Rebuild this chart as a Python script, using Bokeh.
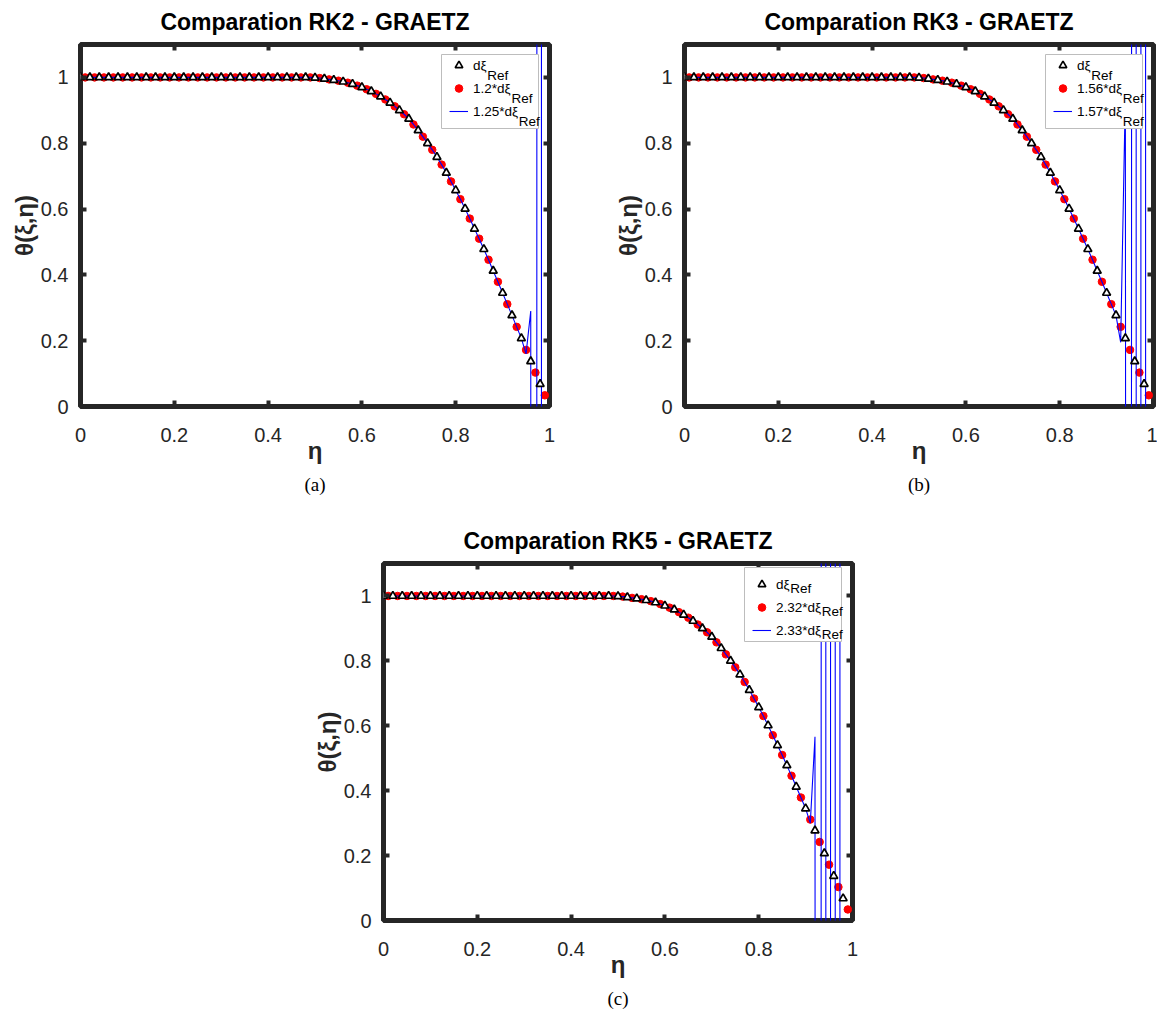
import numpy as np
from bokeh.plotting import figure
from bokeh.models import (Legend, LegendItem, Label, LinearAxis, Title, FixedTicker,
                          Range1d, Spacer, ColumnDataSource, BoxAnnotation)
from bokeh.layouts import column, row
from bokeh.core.properties import value
from bokeh.embed import file_html
from bokeh.resources import INLINE

# ---------------- data ----------------
eta_ref = [0.00, 0.02, 0.04, 0.06, 0.08, 0.10, 0.12, 0.14, 0.16, 0.18,
           0.20, 0.22, 0.24, 0.26, 0.28, 0.30, 0.32, 0.34, 0.36, 0.38,
           0.40, 0.42, 0.44, 0.46, 0.48, 0.50, 0.52, 0.54, 0.56, 0.58,
           0.60, 0.62, 0.64, 0.66, 0.68, 0.70, 0.72, 0.74, 0.76, 0.78,
           0.80, 0.82, 0.84, 0.86, 0.88, 0.90, 0.92, 0.94, 0.96, 0.98]
theta_ref = [1.0, 1.0, 1.0, 1.0, 1.0, 1.0, 1.0, 1.0, 1.0, 1.0,
             1.0, 1.0, 1.0, 1.0, 1.0, 1.0, 1.0, 1.0, 1.0, 1.0,
             1.0, 1.0, 1.0, 1.0, 1.0, 0.999, 0.996, 0.992, 0.987, 0.980,
             0.970, 0.958, 0.942, 0.923, 0.900, 0.874, 0.839, 0.800, 0.758, 0.710,
             0.657, 0.601, 0.540, 0.478, 0.412, 0.345, 0.277, 0.207, 0.137, 0.068]

eta_fine = [0.01, 0.03, 0.05, 0.07, 0.09, 0.11, 0.13, 0.15, 0.17, 0.19,
            0.21, 0.23, 0.25, 0.27, 0.29, 0.31, 0.33, 0.35, 0.37, 0.39,
            0.41, 0.43, 0.45, 0.47, 0.49, 0.51, 0.53, 0.55, 0.57, 0.59,
            0.61, 0.63, 0.65, 0.67, 0.69, 0.71, 0.73, 0.75, 0.77, 0.79,
            0.81, 0.83, 0.85, 0.87, 0.89, 0.91, 0.93, 0.95, 0.97, 0.99]
theta_fine = [1.0, 1.0, 1.0, 1.0, 1.0, 1.0, 1.0, 1.0, 1.0, 1.0,
              1.0, 1.0, 1.0, 1.0, 1.0, 1.0, 1.0, 1.0, 1.0, 1.0,
              1.0, 1.0, 1.0, 1.0, 1.0, 0.998, 0.994, 0.990, 0.984, 0.975,
              0.964, 0.950, 0.933, 0.912, 0.888, 0.857, 0.820, 0.780, 0.735, 0.684,
              0.630, 0.571, 0.510, 0.446, 0.379, 0.311, 0.242, 0.172, 0.103, 0.034]

# unstable (blue) run: same profile, then oscillation near the wall (off-chart values estimated)
tail_eta_a = [0.95, 0.96, 0.97, 0.98, 0.99]
tail_theta_a = [0.160, 0.290, -25.0, 60.0, -150.0]
tail_eta_b = [0.93, 0.94, 0.95, 0.96, 0.97, 0.98, 0.99]
tail_theta_b = [0.195, 0.950, -20.0, 45.0, -100.0, 220.0, -480.0]
tail_eta_c = [0.91, 0.92, 0.93, 0.94, 0.95, 0.96, 0.97, 0.98]
tail_theta_c = [0.300, 0.566, -25.0, 55.0, -120.0, 260.0, -560.0, 1200.0]
tail_end_c = 0.98   # the RK5 unstable run is not drawn past this point

panel_titles = ["Comparation RK2 - GRAETZ", "Comparation RK3 - GRAETZ", "Comparation RK5 - GRAETZ"]
panel_captions = ["(a)", "(b)", "(c)"]
legend_ref = "dξ"
legend_fine = ["1.2*dξ", "1.56*dξ", "2.32*dξ"]
legend_blue = ["1.25*dξ", "1.57*dξ", "2.33*dξ"]
legend_sub = "Ref"
# approximate rendered widths (px) of the legend labels at 13.5px, used to place the subscript
legend_w_ref = 14.3
legend_w_fine = [38.4, 45.7, 45.7]
legend_w_blue = [45.7, 45.7, 45.7]

tick_values = [0, 0.2, 0.4, 0.6, 0.8, 1]
tick_labels = ["0", "0.2", "0.4", "0.6", "0.8", "1"]
x_label = "η"
y_label = "θ(ξ,η)"

AX = "#262626"
SANS = "Liberation Sans"
SERIF = "Liberation Serif"

# legend geometry (px)
L_MARGIN, L_PAD, L_GW, L_GH, L_SP, L_STAND, L_LW = 11, 4, 19, 20, 3, 5, 65
L_FONT = "13.5px"
L_SHIFT = 3   # observed offset of the legend content relative to the computed box


def blue_series(tail_eta, tail_theta, end=None):
    pts = dict(zip(eta_ref, theta_ref))
    pts.update(zip(eta_fine, theta_fine))
    pts.update(zip(tail_eta, tail_theta))
    xs = [x for x in sorted(pts) if end is None or x <= end]
    return xs, [pts[x] for x in xs]


def make_panel(i, width, height, bl, br, bt, bb, fw, fh, tail_eta, tail_theta, end=None):
    p = figure(width=width, height=height, output_backend="svg", toolbar_location=None,
               x_range=Range1d(0, 1), y_range=Range1d(0, 1.1),
               min_border_left=bl, min_border_right=br, min_border_top=bt, min_border_bottom=bb,
               background_fill_color="white", border_fill_color="white")
    p.title.text = panel_titles[i]
    p.title.text_font = SANS
    p.title.text_font_size = "23px"
    p.title.text_font_style = "bold"
    p.title.text_color = "#000000"
    p.title.align = "center"
    p.title.vertical_align = "top"
    p.title.standoff = 15
    p.xgrid.visible = False
    p.ygrid.visible = False
    p.outline_line_color = AX
    p.outline_line_width = 5
    p.outline_line_alpha = 1.0

    overrides = dict(zip(tick_values, tick_labels))
    for ax in [p.xaxis[0], p.yaxis[0]]:
        ax.ticker = FixedTicker(ticks=tick_values)
        ax.major_label_overrides = overrides
        ax.axis_line_color = None
        ax.major_tick_in = 6
        ax.major_tick_out = 0
        ax.major_tick_line_width = 4
        ax.major_tick_line_color = AX
        ax.minor_tick_line_color = None
        ax.major_label_text_font = SANS
        ax.major_label_text_font_size = "20px"
        ax.major_label_text_color = AX
        ax.axis_label_text_font = SANS
        ax.axis_label_text_font_size = "24px"
        ax.axis_label_text_font_style = "bold"
        ax.axis_label_text_color = AX
    p.xaxis[0].axis_label = x_label
    p.xaxis[0].major_label_standoff = 21
    p.xaxis[0].axis_label_standoff = -8
    p.yaxis[0].axis_label = y_label
    p.yaxis[0].major_label_standoff = 12
    p.yaxis[0].axis_label_standoff = 0

    for place in ["above", "right"]:
        a = LinearAxis(ticker=FixedTicker(ticks=tick_values), major_label_text_font_size="1px",
                       major_label_text_color=None, major_label_standoff=0,
                       axis_line_color=None, major_tick_in=6,
                       major_tick_out=0, major_tick_line_width=4, major_tick_line_color=AX,
                       minor_tick_line_color=None)
        p.add_layout(a, place)

    src_ref = ColumnDataSource(dict(x=eta_ref, y=theta_ref))
    src_fine = ColumnDataSource(dict(x=eta_fine, y=theta_fine))
    bx, by = blue_series(tail_eta, tail_theta, end)
    src_blue = ColumnDataSource(dict(x=bx, y=by))

    r_red = p.scatter("x", "y", source=src_fine, marker="circle", size=7.5,
                      fill_color="#ff0000", line_color="#ff0000")
    r_blue = p.line("x", "y", source=src_blue, line_color="#0000ff", line_width=1.1)
    r_tri = p.scatter("x", "y", source=src_ref, marker="triangle", size=8,
                      fill_color="white", line_color="black", line_width=1.7)

    # legend backdrop (box), then transparent legend, then subscripts
    box_w = 2 * L_PAD + L_GW + L_STAND + L_LW
    box_h = 2 * L_PAD + 3 * L_GH + 2 * L_SP
    right = fw - L_MARGIN
    top = fh - L_MARGIN
    p.add_layout(BoxAnnotation(left=right - box_w, right=right, top=top, bottom=top - box_h,
                               left_units="screen", right_units="screen",
                               top_units="screen", bottom_units="screen",
                               fill_color="white", fill_alpha=1.0,
                               line_color="#bdbdbd", line_width=1, line_alpha=1.0,
                               editable=False))

    leg = Legend(items=[LegendItem(label=value(legend_ref), renderers=[r_tri]),
                        LegendItem(label=value(legend_fine[i]), renderers=[r_red]),
                        LegendItem(label=value(legend_blue[i]), renderers=[r_blue])],
                 location="top_right", margin=L_MARGIN, padding=L_PAD, spacing=L_SP,
                 glyph_height=L_GH, glyph_width=L_GW, label_standoff=L_STAND, label_width=L_LW,
                 label_text_font=SANS, label_text_font_size=L_FONT, label_text_color="black",
                 border_line_color=None, background_fill_alpha=0.0)
    p.add_layout(leg)

    lab_x0 = right - box_w + L_PAD + L_GW + L_STAND + L_SHIFT
    widths = [legend_w_ref, legend_w_fine[i], legend_w_blue[i]]
    for k, w in enumerate(widths):
        yc = top - L_PAD - L_GH / 2 - k * (L_GH + L_SP)
        p.add_layout(Label(x=lab_x0 + w + 0.5, y=yc - 7, x_units="screen", y_units="screen",
                           text=legend_sub, text_font=SANS, text_font_size=L_FONT,
                           text_color="black", text_baseline="middle", text_align="left"))

    cap = Title(text=panel_captions[i], align="center", text_font=SERIF, text_font_size="19px",
                text_font_style="normal", text_color="black", standoff=11)
    p.add_layout(cap, "below")
    return p


pa = make_panel(0, 604, 500, 80, 55, 44, 93, 469, 363, tail_eta_a, tail_theta_a)
pb = make_panel(1, 553, 500, 80, 4, 44, 93, 469, 363, tail_eta_b, tail_theta_b)
pc = make_panel(2, 604, 514, 80, 55, 63, 87, 469, 364, tail_eta_c, tail_theta_c, tail_end_c)

layout = column(row(pa, pb), row(Spacer(width=303, height=514), pc))

open("out.html", "w").write(file_html(layout, INLINE, title="Comparation RK - GRAETZ"))
